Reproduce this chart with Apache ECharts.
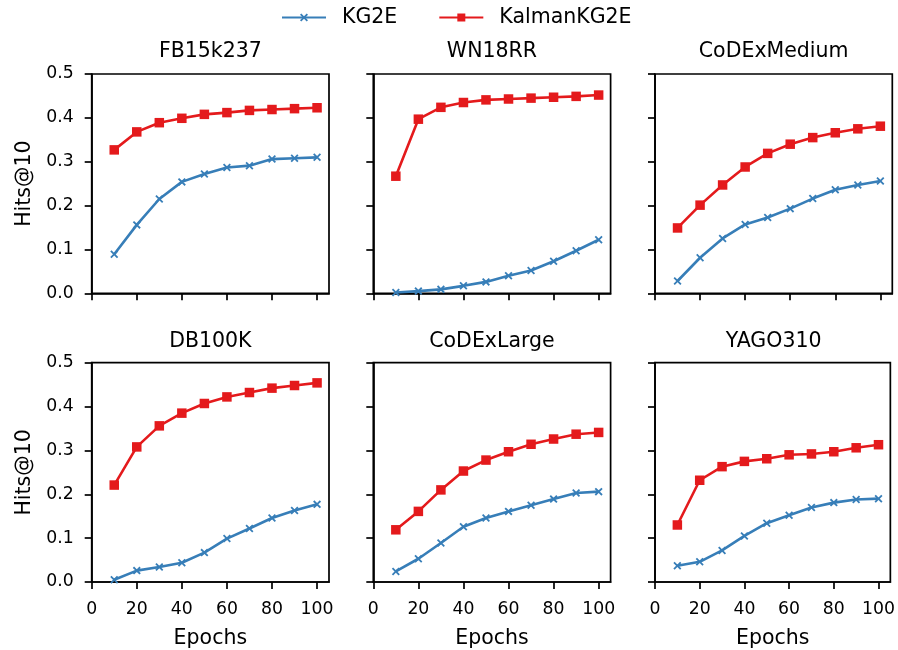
<!DOCTYPE html>
<html>
<head>
<meta charset="utf-8">
<script src="https://cdn.jsdelivr.net/npm/echarts@6/dist/echarts.min.js"></script>
<style>
  html, body { margin: 0; padding: 0; background: #fff; }
  #chart { width: 898px; height: 650px; }
</style>
</head>
<body>
<div id="chart"></div>
<script>
const epochs = [10, 20, 30, 40, 50, 60, 70, 80, 90, 100]
const datasets = ['FB15k237', 'WN18RR', 'CoDExMedium', 'DB100K', 'CoDExLarge', 'YAGO310']
const xTicks = [0, 20, 40, 60, 80, 100]
const yTicks = [0, 0.1, 0.2, 0.3, 0.4, 0.5]

// Hits@10 per dataset
const kg2e_FB15k237 = [0.089, 0.156, 0.215, 0.254, 0.272, 0.287, 0.291, 0.306, 0.308, 0.310]
const kalman_FB15k237 = [0.327, 0.368, 0.389, 0.399, 0.408, 0.412, 0.417, 0.419, 0.421, 0.423]
const kg2e_WN18RR = [0.002, 0.005, 0.009, 0.017, 0.026, 0.040, 0.052, 0.073, 0.097, 0.122]
const kalman_WN18RR = [0.267, 0.397, 0.424, 0.435, 0.441, 0.443, 0.445, 0.447, 0.449, 0.452]
const kg2e_CoDExMedium = [0.028, 0.081, 0.125, 0.157, 0.173, 0.193, 0.216, 0.236, 0.247, 0.256]
const kalman_CoDExMedium = [0.149, 0.201, 0.247, 0.288, 0.319, 0.340, 0.355, 0.366, 0.375, 0.381]
const kg2e_DB100K = [0.005, 0.026, 0.034, 0.044, 0.067, 0.099, 0.122, 0.146, 0.163, 0.177]
const kalman_DB100K = [0.221, 0.308, 0.356, 0.385, 0.407, 0.422, 0.432, 0.442, 0.448, 0.454]
const kg2e_CoDExLarge = [0.024, 0.053, 0.089, 0.126, 0.146, 0.161, 0.175, 0.189, 0.203, 0.206]
const kalman_CoDExLarge = [0.119, 0.161, 0.210, 0.253, 0.278, 0.297, 0.314, 0.326, 0.337, 0.341]
const kg2e_YAGO310 = [0.037, 0.046, 0.072, 0.105, 0.134, 0.152, 0.170, 0.181, 0.188, 0.190]
const kalman_YAGO310 = [0.130, 0.232, 0.263, 0.275, 0.281, 0.290, 0.292, 0.297, 0.306, 0.313]

const kg2eAll = [kg2e_FB15k237, kg2e_WN18RR, kg2e_CoDExMedium, kg2e_DB100K, kg2e_CoDExLarge, kg2e_YAGO310]
const kalmanAll = [kalman_FB15k237, kalman_WN18RR, kalman_CoDExMedium, kalman_DB100K, kalman_CoDExLarge, kalman_YAGO310]

const FONT = 'DejaVu Sans'
const BLUE = '#377eb8'
const RED = '#e41a1c'
const X_MARK = 'path://M0,1.6L1.6,0L5,3.4L8.4,0L10,1.6L6.6,5L10,8.4L8.4,10L5,6.6L1.6,10L0,8.4L3.4,5Z'

const colLeft = [91.7, 373.3, 655]
const rowTop = [74, 362.7]
const W = 237.3
const H = 219.3

const grids = [], xAxes = [], yAxes = [], titles = [], series = []

datasets.forEach((name, i) => {
  const r = Math.floor(i / 3), c = i % 3
  grids.push({
    left: colLeft[c], top: rowTop[r], width: W, height: H,
    show: true, borderColor: '#000', borderWidth: 1.7, backgroundColor: 'transparent'
  })
  titles.push({
    text: name,
    left: colLeft[c] + W / 2, top: r === 0 ? 41 : 331, textAlign: 'center', padding: 0,
    textStyle: { fontFamily: FONT, fontSize: 20.5, fontWeight: 'normal', color: '#000' }
  })
  xAxes.push({
    gridIndex: i, type: 'value', min: 0, max: 105.3,
    axisLine: { show: true, onZero: false, lineStyle: { color: '#000', width: 1.7 } },
    axisTick: { show: true, length: 7, lineStyle: { color: '#000', width: 1.7 }, customValues: xTicks },
    axisLabel: {
      show: r === 1, customValues: xTicks, margin: 19,
      fontFamily: FONT, fontSize: 17.3, color: '#000'
    },
    splitLine: { show: false },
    name: r === 1 ? 'Epochs' : '', nameLocation: 'middle', nameGap: 46,
    nameTextStyle: { fontFamily: FONT, fontSize: 20.5, color: '#000' }
  })
  yAxes.push({
    gridIndex: i, type: 'value', min: 0, max: 0.5, interval: 0.1,
    axisLine: { show: true, lineStyle: { color: '#000', width: 1.7 } },
    axisTick: { show: true, length: 7, lineStyle: { color: '#000', width: 1.7 } },
    axisLabel: {
      show: c === 0, margin: 18, formatter: v => v.toFixed(1),
      fontFamily: FONT, fontSize: 17.3, color: '#000'
    },
    splitLine: { show: false },
    name: c === 0 ? 'Hits@10' : '', nameLocation: 'middle', nameGap: 57, nameRotate: 90,
    nameTextStyle: { fontFamily: FONT, fontSize: 20.5, color: '#000' }
  })
  series.push({
    name: 'KG2E', type: 'line', xAxisIndex: i, yAxisIndex: i,
    data: epochs.map((e, k) => [e, kg2eAll[i][k]]),
    symbol: X_MARK, symbolSize: 8, symbolKeepAspect: true,
    lineStyle: { color: BLUE, width: 2.6 }, itemStyle: { color: BLUE },
    animation: false
  })
  series.push({
    name: 'KalmanKG2E', type: 'line', xAxisIndex: i, yAxisIndex: i,
    data: epochs.map((e, k) => [e, kalmanAll[i][k]]),
    symbol: 'rect', symbolSize: 9.5,
    lineStyle: { color: RED, width: 2.6 }, itemStyle: { color: RED },
    animation: false
  })
})

const chart = echarts.init(document.getElementById('chart'), null, { renderer: 'canvas' })
chart.setOption({
  backgroundColor: '#fff',
  animation: false,
  title: titles,
  legend: {
    data: ['KG2E', 'KalmanKG2E'],
    top: 2, left: 276,
    itemWidth: 44, itemHeight: 10, itemGap: 41,
    textStyle: { fontFamily: FONT, fontSize: 20.5, color: '#000', padding: [0, 0, 0, 11] }
  },
  grid: grids,
  xAxis: xAxes,
  yAxis: yAxes,
  series: series
})
</script>
</body>
</html>
